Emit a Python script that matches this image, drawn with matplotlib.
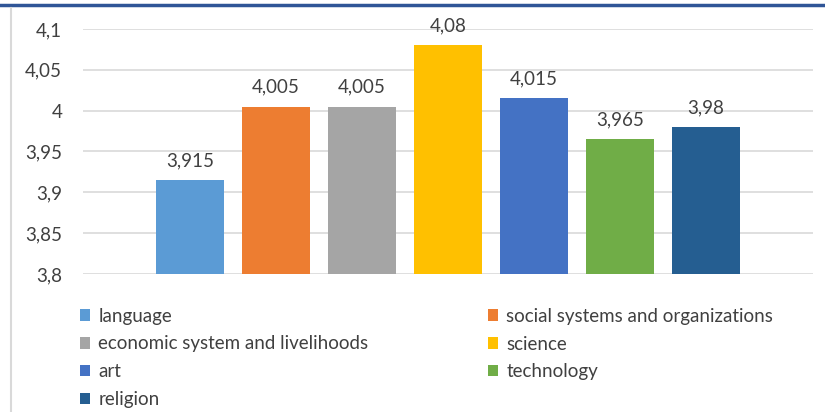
import matplotlib
matplotlib.use("Agg")
import matplotlib.pyplot as plt
from matplotlib.lines import Line2D
from matplotlib.patches import Patch

categories = ["language", "social systems and organizations", "economic system and livelihoods",
              "science", "art", "technology", "religion"]
values = [3.915, 4.005, 4.005, 4.08, 4.015, 3.965, 3.98]
colors = ["#5B9BD5", "#ED7D31", "#A5A5A5", "#FFC000", "#4472C4", "#70AD47", "#255E91"]
yticks = [3.8, 3.85, 3.9, 3.95, 4.0, 4.05, 4.1]
ytick_labels = ["3,8", "3,85", "3,9", "3,95", "4", "4,05", "4,1"]

plt.rcParams['font.family'] = ['Lato', 'DejaVu Sans']
fs = 13.5

W, H = 825, 412
fig = plt.figure(figsize=(W / 100, H / 100), dpi=100)
# plot area in pixels: x 83..813, y 29..274
ax = fig.add_axes([83 / W, 1 - 274 / H, (813 - 83) / W, (274 - 29) / H])

x = list(range(len(values)))
ax.bar(x, values, width=0.79, color=colors, zorder=3)
ax.set_ylim(3.8, 4.1)
ax.set_xlim(-0.5 - 0.744, len(values) - 0.5 + 0.744)
ax.set_yticks(yticks)
ax.set_yticklabels(ytick_labels, fontsize=fs, color="#404040")
ax.set_xticks([])
ax.tick_params(axis="y", length=0, pad=15)
ax.grid(axis="y", color="#D9D9D9", linewidth=1.2, zorder=0)
for s in ax.spines.values():
    s.set_visible(False)

for xi, v in zip(x, values):
    lbl = ("%g" % v).replace(".", ",")
    ax.annotate(lbl, (xi, v), xytext=(0, 8), textcoords="offset points",
                ha="center", va="bottom", fontsize=fs, color="#404040")

handles = [Patch(facecolor=c, edgecolor="none") for c in colors]
# legend: row-major order in 2 columns
order_left = [0, 2, 4, 6]
order_right = [1, 3, 5]
hl = [handles[i] for i in order_left] + [handles[i] for i in order_right]
ll = [categories[i] for i in order_left] + [categories[i] for i in order_right]
leg = fig.legend(hl, ll, ncol=2, loc="upper left", bbox_to_anchor=(74 / W, 1 - 302 / H),
                 frameon=False, fontsize=fs, handlelength=0.55, handleheight=0.55,
                 handletextpad=0.45, columnspacing=6.35, labelspacing=0.58,
                 borderaxespad=0, borderpad=0.3, labelcolor="#404040")

# top blue rule and left gray border
fig.add_artist(Line2D([0, 1], [1 - 5 / H, 1 - 5 / H], color="#2F5597", linewidth=2.5))
fig.add_artist(Line2D([11 / W, 11 / W], [0, 1 - 8 / H], color="#D9D9D9", linewidth=1.5))

fig.savefig("out.png", dpi=100)
